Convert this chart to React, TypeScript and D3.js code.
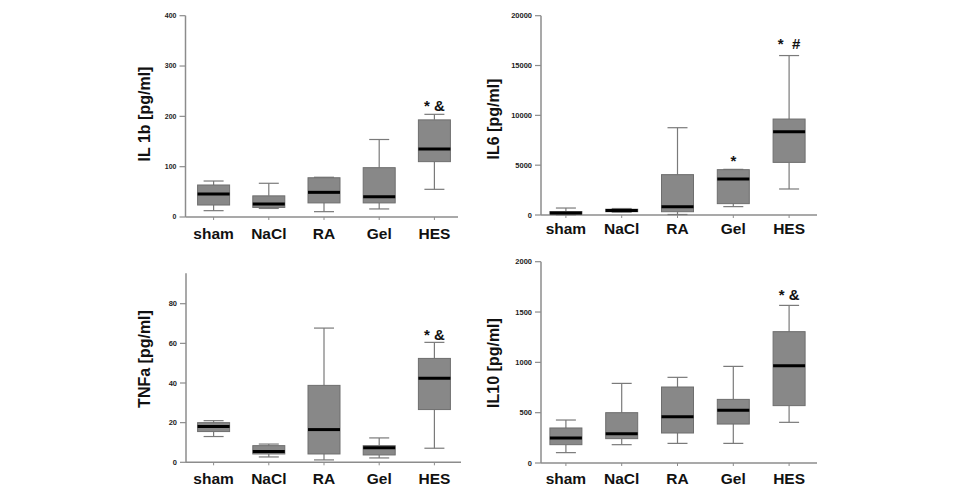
import React from "react";
import * as d3 from "d3";

// Treatment groups shown on every x axis
const groups = ["sham", "NaCl", "RA", "Gel", "HES"];

// Box statistics per group: [min, q1, median, q3, max]
const il1bStats: number[][] = [
  [12.6, 23.8, 45.7, 63.6, 71.5],
  [17, 19, 26, 42, 67],
  [10.6, 28, 49, 78, 79],
  [16, 28, 40, 98, 154],
  [55, 110, 135, 193, 204],
];
const il6Stats: number[][] = [
  [20, 80, 200, 350, 700],
  [280, 330, 450, 580, 650],
  [50, 330, 840, 4050, 8760],
  [840, 1140, 3610, 4550, 4580],
  [2610, 5280, 8360, 9630, 16000],
];
const tnfaStats: number[][] = [
  [13, 15.5, 18, 20, 21],
  [2.7, 4.2, 5.4, 8.4, 9.2],
  [1.2, 4.2, 16.5, 38.8, 67.7],
  [2.2, 3.7, 7.4, 8.4, 12.3],
  [7.1, 26.6, 42.4, 52.4, 60.5],
];
const il10Stats: number[][] = [
  [103, 182, 248, 348, 427],
  [182, 242, 291, 500, 791],
  [195, 298, 460, 755, 851],
  [195, 387, 523, 632, 960],
  [404, 570, 967, 1305, 1566],
];

// Axis titles and tick values
const il1bTitle = "IL 1b [pg/ml]";
const il6Title = "IL6 [pg/ml]";
const tnfaTitle = "TNFa [pg/ml]";
const il10Title = "IL10 [pg/ml]";
const il1bTicks = [0, 100, 200, 300, 400];
const il6Ticks = [0, 5000, 10000, 15000, 20000];
const tnfaTicks = [0, 20, 40, 60, 80];
const il10Ticks = [0, 500, 1000, 1500, 2000];

// Significance marks: [group, text]
const il1bMarks: [string, string][] = [["HES", "* &"]];
const il6Marks: [string, string][] = [["Gel", "*"], ["HES", "*  #"]];
const tnfaMarks: [string, string][] = [["HES", "* &"]];
const il10Marks: [string, string][] = [["HES", "* &"]];

const FONT = "'Liberation Sans', Arial, sans-serif";
const BOX_FILL = "#888888";
const BOX_STROKE = "#6e6e6e";
const WHISKER = "#7a7a7a";
const AXIS = "#8c8c8c";

type PanelProps = {
  stats: number[][];
  title: string;
  ticks: number[];
  marks: [string, string][];
  markY: number[];
  domainMax: number;
  axisX: number;
  xEnd: number;
  bandRange: [number, number];
  yTop: number;
  yBottom: number;
  axisTop: number;
  titleX: number;
  titleY: number;
  catBaseline: number;
  tickFont: number;
};

function Panel(p: PanelProps) {
  const x = d3.scaleBand<string>().domain(groups).range(p.bandRange);
  const y = d3.scaleLinear().domain([0, p.domainMax]).range([p.yBottom, p.yTop]);
  const bw = 32;
  const cap = 20;
  return (
    <g>
      {/* y axis */}
      <line x1={p.axisX} x2={p.axisX} y1={p.axisTop} y2={p.yBottom} stroke={AXIS} strokeWidth={1.5} />
      {p.ticks.map((t) => (
        <g key={t}>
          <line x1={p.axisX - 6} x2={p.axisX} y1={y(t)} y2={y(t)} stroke={AXIS} strokeWidth={1.2} />
          <text
            x={p.axisX - 9}
            y={y(t)}
            dy="0.35em"
            textAnchor="end"
            fontFamily={FONT}
            fontWeight="bold"
            fontSize={p.tickFont}
            fill="#222"
          >
            {t}
          </text>
        </g>
      ))}
      {/* x axis */}
      <line x1={p.axisX} x2={p.xEnd} y1={p.yBottom} y2={p.yBottom} stroke={AXIS} strokeWidth={1.5} />
      {groups.map((g) => {
        const cx = (x(g) as number) + x.bandwidth() / 2;
        return (
          <g key={g}>
            <line x1={cx} x2={cx} y1={p.yBottom} y2={p.yBottom + 3} stroke={AXIS} strokeWidth={1} />
            <text
              x={cx}
              y={p.catBaseline}
              textAnchor="middle"
              fontFamily={FONT}
              fontWeight="bold"
              fontSize={15.5}
              fill="#111"
            >
              {g}
            </text>
          </g>
        );
      })}
      {/* boxes */}
      {p.stats.map((s, i) => {
        const g = groups[i];
        const cx = (x(g) as number) + x.bandwidth() / 2;
        const [mn, q1, md, q3, mx] = s;
        return (
          <g key={g}>
            <line x1={cx} x2={cx} y1={y(mx)} y2={y(q3)} stroke={WHISKER} strokeWidth={1.2} />
            <line x1={cx} x2={cx} y1={y(q1)} y2={y(mn)} stroke={WHISKER} strokeWidth={1.2} />
            <line x1={cx - cap / 2} x2={cx + cap / 2} y1={y(mx)} y2={y(mx)} stroke={WHISKER} strokeWidth={1.2} />
            <line x1={cx - cap / 2} x2={cx + cap / 2} y1={y(mn)} y2={y(mn)} stroke={WHISKER} strokeWidth={1.2} />
            <rect
              x={cx - bw / 2}
              y={y(q3)}
              width={bw}
              height={Math.max(1, y(q1) - y(q3))}
              fill={BOX_FILL}
              stroke={BOX_STROKE}
              strokeWidth={1}
            />
            <line x1={cx - bw / 2} x2={cx + bw / 2} y1={y(md)} y2={y(md)} stroke="#000" strokeWidth={3} />
          </g>
        );
      })}
      {/* significance marks */}
      {p.marks.map(([g, txt], i) => {
        const cx = (x(g) as number) + x.bandwidth() / 2;
        return (
          <text
            key={g}
            x={cx}
            y={p.markY[i]}
            textAnchor="middle"
            fontFamily={FONT}
            fontWeight="bold"
            fontSize={15}
            fill="#111"
            style={{ whiteSpace: "pre" }}
          >
            {txt}
          </text>
        );
      })}
      {/* y axis title */}
      <text
        transform={`translate(${p.titleX},${p.titleY}) rotate(-90)`}
        textAnchor="middle"
        fontFamily={FONT}
        fontWeight="bold"
        fontSize={16}
        fill="#111"
      >
        {p.title}
      </text>
    </g>
  );
}

export default function App() {
  return (
    <svg
      width={961}
      height={486}
      style={{ position: "fixed", left: 0, top: 0, background: "#fff" }}
    >
      <rect width={961} height={486} fill="#fff" />
      <Panel
        stats={il1bStats}
        title={il1bTitle}
        ticks={il1bTicks}
        marks={il1bMarks}
        markY={[111]}
        domainMax={400}
        axisX={185.5}
        xEnd={458}
        bandRange={[186, 462]}
        yTop={15.7}
        yBottom={217}
        axisTop={15.7}
        titleX={150}
        titleY={114}
        catBaseline={239}
        tickFont={7}
      />
      <Panel
        stats={il6Stats}
        title={il6Title}
        ticks={il6Ticks}
        marks={il6Marks}
        markY={[166, 49]}
        domainMax={20000}
        axisX={541}
        xEnd={817}
        bandRange={[538, 817]}
        yTop={15.7}
        yBottom={215}
        axisTop={15.7}
        titleX={499}
        titleY={119}
        catBaseline={234}
        tickFont={7.5}
      />
      <Panel
        stats={tnfaStats}
        title={tnfaTitle}
        ticks={tnfaTicks}
        marks={tnfaMarks}
        markY={[340]}
        domainMax={80}
        axisX={186}
        xEnd={461}
        bandRange={[186, 462]}
        yTop={303.7}
        yBottom={462.3}
        axisTop={273.3}
        titleX={150}
        titleY={359}
        catBaseline={484}
        tickFont={7.5}
      />
      <Panel
        stats={il10Stats}
        title={il10Title}
        ticks={il10Ticks}
        marks={il10Marks}
        markY={[300]}
        domainMax={2000}
        axisX={541}
        xEnd={817}
        bandRange={[538, 817]}
        yTop={261.7}
        yBottom={463}
        axisTop={261.7}
        titleX={499}
        titleY={363}
        catBaseline={484}
        tickFont={7.5}
      />
    </svg>
  );
}
